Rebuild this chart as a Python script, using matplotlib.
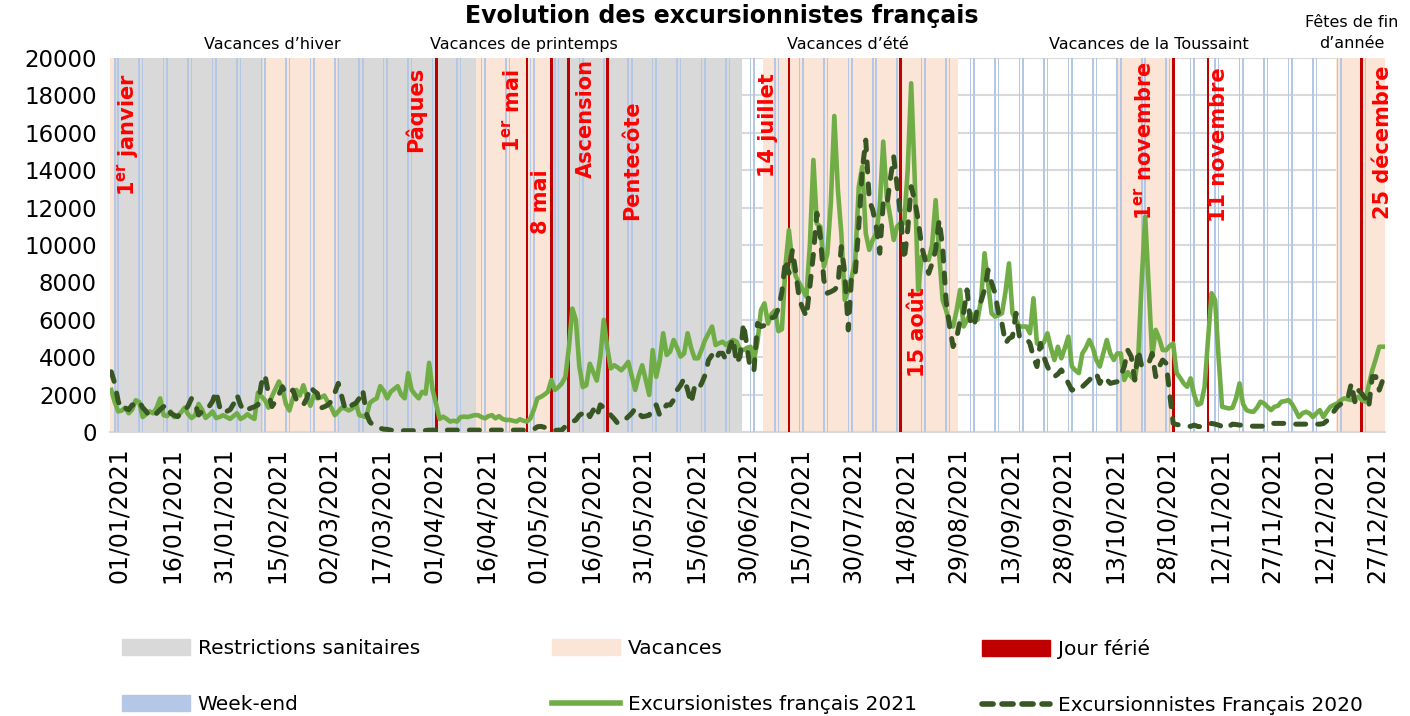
import pandas as pd
import matplotlib
matplotlib.use("Agg")
import matplotlib.pyplot as plt
import matplotlib.transforms as mtransforms
from matplotlib.patches import Patch
from matplotlib.lines import Line2D

# ---------------------------------------------------------
# data (one value per day)
# ---------------------------------------------------------
excursionnistes_2021 = [
    2250, 1600, 1100, 1150, 1300, 1000, 1200, 1700, 1600, 800,
    950, 1100, 1000, 1300, 1800, 900, 850, 1100, 800, 850,
    1050, 1300, 950, 750, 900, 1500, 1200, 750, 900, 1100,
    750, 800, 900, 800, 700, 850, 1000, 700, 800, 950,
    800, 700, 2100, 1900, 1700, 1300, 1900, 2300, 2700, 2300,
    1500, 1150, 1800, 2250, 1950, 2500, 1900, 1400, 1950, 1800,
    1850, 1950, 1600, 1300, 900, 1100, 1300, 1250, 1150, 1250,
    1550, 900, 850, 800, 1550, 1700, 1800, 2450, 2200, 1800,
    2150, 2300, 2450, 2000, 1800, 3150, 2250, 2000, 1800, 2150,
    2050, 3700, 2250, 1500, 700, 820, 700, 560, 600, 560,
    800, 820, 800, 850, 900, 900, 800, 730, 850, 900,
    730, 850, 700, 640, 650, 600, 560, 680, 600, 560,
    730, 1200, 1800, 1880, 2000, 2150, 2780, 2250, 2400, 2600,
    2950, 4500, 6600, 6000, 3500, 2400, 2500, 3650, 3200, 2750,
    4000, 6000, 4500, 3400, 3570, 3450, 3300, 3500, 3750, 3000,
    2250, 3000, 3570, 2800, 1980, 4380, 2950, 3800, 5280, 4120,
    4300, 4920, 4500, 4030, 4200, 5280, 4500, 3940, 3940, 4400,
    4920, 5280, 5640, 4650, 4750, 4830, 4650, 4800, 4920, 4830,
    4400, 4380, 4500, 4560, 3850, 4830, 6520, 6880, 5800, 6300,
    6500, 5390, 5500, 8840, 10800, 9000, 8310, 7950, 7600, 7230,
    10000, 14550, 11140, 10980, 8840, 9540, 12230, 16900, 13000, 10620,
    7060, 7580, 8310, 9200, 13120, 14190, 10620, 9740, 10270, 10620,
    12040, 15530, 12580, 11520, 10270, 11000, 11170, 11170, 14000, 18650,
    13650, 7600, 9380, 9380, 9200, 10000, 12400, 9560, 7060, 6500,
    5800, 5640, 6500, 7600, 5640, 6000, 6350, 6170, 6000, 7060,
    9560, 8000, 6350, 6170, 6250, 6350, 7500, 9020, 6350, 6000,
    5640, 5640, 5640, 5280, 7150, 4740, 4600, 4800, 5280, 4500,
    3850, 4560, 3940, 4500, 5100, 3500, 3300, 3150, 4200, 4500,
    4920, 4500, 3850, 3500, 4200, 4920, 4200, 3850, 4200, 4200,
    2780, 3200, 2960, 2780, 4000, 8130, 11510, 7780, 4030, 5460,
    5000, 4380, 4380, 4600, 4740, 3150, 2900, 2600, 2420, 2870,
    2000, 1450, 1530, 2420, 5000, 7420, 7060, 4000, 1350, 1300,
    1260, 1300, 1800, 2600, 1500, 1170, 1100, 1080, 1300, 1620,
    1530, 1350, 1170, 1350, 1400, 1620, 1650, 1710, 1500, 1170,
    800, 1000, 1080, 1000, 800, 1000, 1170, 800, 1100, 1350,
    1450, 1530, 1700, 1800, 1750, 1710, 1800, 1890, 1700, 1620,
    2510, 3300, 3900, 4560, 4560,
]

excursionnistes_2020 = [
    3220, 2600, 1640, 1190, 1280, 1190, 1450, 1450, 1640, 1300,
    1100, 820, 900, 1000, 1200, 1360, 1450, 1000, 900, 820,
    1000, 1100, 1400, 1800, 1540, 910, 1100, 1360, 1360, 1640,
    2180, 1360, 1000, 1100, 1190, 1500, 1990, 1450, 1100, 1200,
    1280, 1350, 1450, 2600, 3050, 2060, 1360, 1640, 2000, 2420,
    2060, 2100, 2240, 1720, 1450, 1450, 1800, 2420, 2200, 2060,
    1280, 1350, 1450, 1640, 2100, 2600, 1900, 1190, 1300, 1450,
    1540, 1800, 2240, 1000, 550, 350, 290, 200, 150, 140,
    100, 80, 70, 70, 70, 70, 70, 70, 70, 70,
    80, 100, 100, 100, 100, 100, 100, 100, 100, 100,
    100, 100, 100, 100, 100, 100, 100, 100, 100, 100,
    100, 100, 100, 100, 100, 100, 100, 100, 100, 100,
    100, 150, 280, 300, 250, 150, 100, 80, 100, 100,
    300, 450, 550, 640, 900, 1000, 1180, 820, 1180, 820,
    1450, 1300, 1180, 900, 700, 460, 500, 650, 820, 1000,
    1270, 1000, 820, 850, 900, 1350, 1450, 900, 1200, 1450,
    1450, 1720, 2250, 2500, 2870, 2250, 1540, 2420, 2250, 2600,
    3050, 3850, 4120, 3850, 4210, 4210, 3850, 4500, 5010, 3670,
    4030, 5810, 4560, 3300, 3310, 5810, 5640, 5700, 6000, 6100,
    6170, 6620, 7500, 9200, 8480, 9740, 8480, 7060, 6600, 6170,
    7780, 9500, 11700, 10450, 8130, 7420, 7500, 7600, 7800, 9910,
    8480, 5460, 8480, 8480, 11000, 14010, 15610, 12400, 11870, 10980,
    9560, 12230, 12050, 13500, 14720, 13120, 11520, 9200, 10800, 13120,
    12400, 11340, 9910, 9200, 8480, 9020, 9740, 11340, 9910, 7000,
    5640, 4570, 5000, 6000, 6350, 7600, 5810, 5640, 6710, 7000,
    7600, 8660, 8000, 7420, 6350, 5800, 4740, 5000, 5100, 6350,
    5100, 5100, 5000, 4740, 4000, 3500, 4740, 4000, 3500, 3150,
    2960, 3100, 3320, 3000, 2600, 2240, 2300, 2240, 2420, 2600,
    2780, 3000, 3150, 2600, 2960, 2800, 2600, 2650, 2690, 3000,
    3500, 4380, 4030, 2780, 4380, 3500, 3600, 3670, 4200, 2960,
    3500, 3850, 3670, 2060, 460, 400, 370, 350, 320, 300,
    370, 300, 280, 300, 400, 460, 420, 370, 300, 180,
    300, 420, 400, 370, 370, 350, 320, 310, 310, 310,
    310, 350, 460, 460, 460, 460, 460, 450, 430, 420,
    420, 420, 420, 420, 420, 420, 420, 450, 600, 820,
    1100, 1350, 1500, 1620, 1800, 2600, 1620, 2240, 2060, 1800,
    1350, 2960, 2960, 2240, 2780,
]

restrictions = [("2021-01-01", "2021-06-30")]
vacances = [
    ("2021-01-01", "2021-01-02"),
    ("2021-02-14", "2021-03-06"),
    ("2021-04-16", "2021-05-07"),
    ("2021-07-07", "2021-08-31"),
    ("2021-10-16", "2021-11-01"),
    ("2021-12-18", "2021-12-31"),
]
jours_feries = ["2021-04-04", "2021-04-30", "2021-05-07", "2021-05-12", "2021-05-23",
                "2021-07-14", "2021-08-15", "2021-11-01", "2021-11-11", "2021-12-25"]

# red labels: (text, day, y value)
labels_feries = [
    ("1$^{\\mathbf{er}}$ janvier", "2021-01-06", 15900),
    ("Pâques", "2021-03-29", 17270),
    ("1$^{\\mathbf{er}}$ mai", "2021-04-26", 17190),
    ("8 mai", "2021-05-04", 12330),
    ("Ascension", "2021-05-17", 16790),
    ("Pentecôte", "2021-05-30", 14550),
    ("14 juillet", "2021-07-08", 16390),
    ("15 août", "2021-08-20", 5320),
    ("1$^{\\mathbf{er}}$ novembre", "2021-10-24", 15610),
    ("11 novembre", "2021-11-14", 15350),
    ("25 décembre", "2021-12-31", 15480),
]

# vacation names above the plot: (text, day, y in axes fraction)
labels_vacances = [
    ("Vacances d’hiver", "2021-02-16", 1.035),
    ("Vacances de printemps", "2021-04-29", 1.035),
    ("Vacances d’été", "2021-07-31", 1.035),
    ("Vacances de la Toussaint", "2021-10-25", 1.035),
    ("Fêtes de fin\nd’année", "2021-12-22", 1.068),
]

C_GRIS = "#D9D9D9"
C_VAC = "#FBE5D6"
C_WE = "#B4C7E7"
C_FERIE = "#C00000"
C_2021 = "#70AD47"
C_2020 = "#375623"

plt.rcParams["font.family"] = ["DejaVu Sans"]

dates = pd.date_range("2021-01-01", "2021-12-31", freq="D")
x = list(range(len(dates)))
day = {d.strftime("%Y-%m-%d"): i for i, d in enumerate(dates)}
TOP = 20000


def in_ranges(ranges):
    out = []
    for a, b in ranges:
        out += list(range(day[a], day[b] + 1))
    return out


fig = plt.figure(figsize=(14.1, 7.16), dpi=100)
ax = fig.add_axes([109.5 / 1410, 1 - 432 / 716, 1275 / 1410, 374 / 716])

# background bars
r_idx = in_ranges(restrictions)
ax.bar(r_idx, [TOP] * len(r_idx), width=1.0, color=C_GRIS, linewidth=0, zorder=1)
v_idx = in_ranges(vacances)
ax.bar(v_idx, [TOP] * len(v_idx), width=1.0, color=C_VAC, linewidth=0, zorder=2)
we_idx = [i for i, d in enumerate(dates) if d.dayofweek >= 5]
ax.bar(we_idx, [TOP] * len(we_idx), width=0.45, color=C_WE, linewidth=0, zorder=3)
f_idx = [day[d] for d in jours_feries]
ax.bar(f_idx, [TOP] * len(f_idx), width=0.8, color=C_FERIE, linewidth=0, zorder=4)

# series
ax.plot(x, excursionnistes_2021, color=C_2021, lw=3.3, zorder=5,
        solid_joinstyle="round")
ax.plot(x, excursionnistes_2020, color=C_2020, lw=3.6, zorder=6,
        dashes=(2.0, 2.4), dash_capstyle="round")

# red labels for public holidays
for txt, d, yv in labels_feries:
    ax.text(day[d], yv, txt, rotation=90, ha="center", va="center",
            color="#FF0000", fontsize=15, fontweight="bold", zorder=8, clip_on=False)

# vacation labels above the plot
for txt, d, yf in labels_vacances:
    ax.text(day[d], yf, txt, transform=ax.get_xaxis_transform(), ha="center",
            va="center", fontsize=11.5, linespacing=1.5, clip_on=False)

# axes
ax.set_xlim(-0.5, len(dates) - 0.5)
ax.set_ylim(0, TOP)
ax.set_yticks(range(0, TOP + 1, 2000))
ax.set_xticks(x[::15])
ax.set_xticklabels([d.strftime("%d/%m/%Y") for d in dates[::15]], rotation=90)
ax.tick_params(axis="y", length=0, labelsize=16.5, pad=9)
ax.tick_params(axis="x", length=0, labelsize=17, pad=11)
shift = mtransforms.ScaledTranslation(8 / 100, 0, fig.dpi_scale_trans)
for lab in ax.get_xticklabels():
    lab.set_transform(lab.get_transform() + shift)
ax.yaxis.grid(True, color=C_GRIS, lw=1.5)
ax.set_axisbelow(True)
for s in ["top", "right", "left"]:
    ax.spines[s].set_visible(False)
ax.spines["bottom"].set_color(C_GRIS)
ax.spines["bottom"].set_linewidth(1.5)

# title
fig.text(0.512, 1 - 23 / 716, "Evolution des excursionnistes français",
         ha="center", va="baseline", fontsize=17, fontweight="bold")

# legend, three fixed columns
cols = [
    ([Patch(color=C_GRIS), Patch(color=C_WE)], ["Restrictions sanitaires", "Week-end"], 122),
    ([Patch(color=C_VAC), Line2D([], [], color=C_2021, lw=4)],
     ["Vacances", "Excursionistes français 2021"], 552),
    ([Patch(color=C_FERIE), Line2D([], [], color=C_2020, lw=4, dashes=(2.0, 1.6),
                                    dash_capstyle="round")],
     ["Jour férié", "Excursionnistes Français 2020"], 982),
]
for handles, texts, px in cols:
    fig.legend(handles, texts, loc="upper left", bbox_to_anchor=(px / 1410, 1 - 639 / 716),
               frameon=False, fontsize=14.5, borderpad=0, borderaxespad=0,
               handlelength=3.4, handleheight=0.85, handletextpad=0.35, labelspacing=1.85)

fig.savefig("out.png", dpi=100)
